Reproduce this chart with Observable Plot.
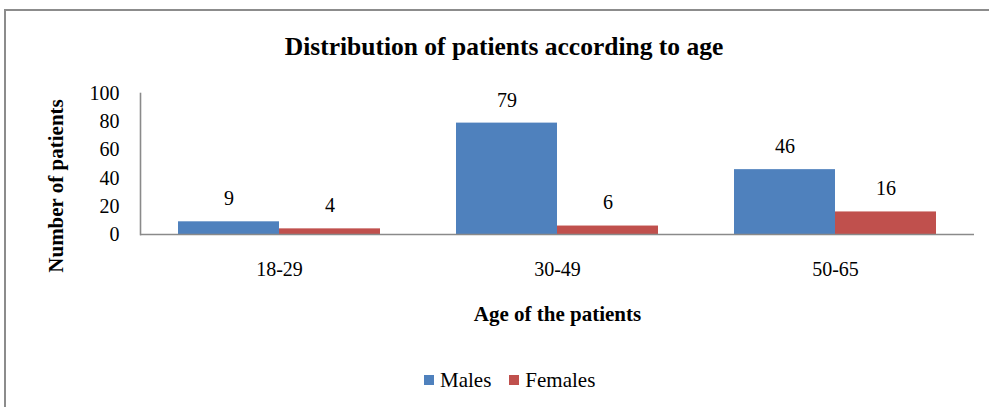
<!DOCTYPE html>
<html>
<head>
<meta charset="utf-8">
<script src="https://cdn.jsdelivr.net/npm/d3@7"></script>
<script src="https://cdn.jsdelivr.net/npm/@observablehq/plot@0.6"></script>
<style>
  html, body { margin: 0; padding: 0; background: #fff; }
  #wrap { position: relative; width: 989px; height: 407px; overflow: hidden; font-family: "Liberation Serif", "Times New Roman", serif; color: #000; }
  #border { position: absolute; left: 4px; top: 9px; width: 1100px; height: 500px; border: 2px solid #8c8c8c; box-sizing: border-box; }
  #title { position: absolute; top: 32px; left: 504px; transform: translateX(-50%); white-space: nowrap; font-weight: bold; font-size: 25.5px; line-height: 30px; }
  #chart { position: absolute; left: 0; top: 70px; }
  #legend { position: absolute; top: 366px; left: 424px; font-size: 21px; }
  #legend .leg-item { display: inline-flex; align-items: center; margin-right: 18px; }
  #legend .leg-item span.sw { display: inline-block; width: 10px; height: 10px; margin-right: 6px; }
</style>
</head>
<body>
<div id="wrap">
  <div id="border"></div>
  <div id="title">Distribution of patients according to age</div>
  <div id="chart"></div>
  <div id="legend"></div>
</div>
<script>
const ageGroups = ["18-29", "30-49", "50-65"];
const sexes = ["Males", "Females"];
const males = [9, 79, 46];
const females = [4, 6, 16];
const yTicks = [0, 20, 40, 60, 80, 100];
const colors = ["#4F81BD", "#C0504D"];
const yTitle = "Number of patients";
const xTitle = "Age of the patients";

const data = ageGroups.flatMap((a, i) => [
  {age: a, sex: sexes[0], value: males[i]},
  {age: a, sex: sexes[1], value: females[i]}
]);

const serif = "'Liberation Serif', 'Times New Roman', serif";

const chart = Plot.plot({
  width: 989,
  height: 260,
  marginLeft: 139,
  marginRight: 15,
  marginTop: 23,
  marginBottom: 96,
  style: {fontFamily: serif, fontSize: "20px", color: "#000", background: "transparent", overflow: "visible"},
  fx: {domain: ageGroups, padding: 0, label: null, tickSize: 0, tickPadding: 27, axis: "bottom"},
  x: {domain: sexes, paddingInner: 0, paddingOuter: 0.376, axis: null},
  y: {domain: [0, 100], ticks: yTicks, tickSize: 0, tickPadding: 21, label: null},
  color: {domain: sexes, range: colors},
  marks: [
    Plot.barY(data, {fx: "age", x: "sex", y: "value", fill: "sex"}),
    Plot.text(data, {fx: "age", x: "sex", y: "value", text: d => String(d.value), dy: -23, fontSize: 20, fontFamily: serif, fill: "#000"}),
    Plot.ruleY([0], {stroke: "#8a8a8a", strokeWidth: 1.6}),
    Plot.frame({anchor: "left", facetAnchor: "left", stroke: "#8a8a8a", strokeWidth: 1.6}),
    Plot.text([xTitle], {facet: "super", frameAnchor: "bottom", dy: 86, fontWeight: "bold", fontSize: 21, fontFamily: serif, fill: "#000"}),
    Plot.text([yTitle], {facet: "super", frameAnchor: "left", textAnchor: "middle", rotate: -90, dx: -84, dy: 22, fontWeight: "bold", fontSize: 21, fontFamily: serif, fill: "#000"})
  ]
});
document.getElementById("chart").appendChild(chart);

// legend
const leg = document.getElementById("legend");
sexes.forEach((s) => {
  const item = document.createElement("span");
  item.className = "leg-item";
  const sw = document.createElement("span");
  sw.className = "sw";
  sw.style.background = chart.scale("color").apply(s);
  item.appendChild(sw);
  item.appendChild(document.createTextNode(s));
  leg.appendChild(item);
});
</script>
</body>
</html>
